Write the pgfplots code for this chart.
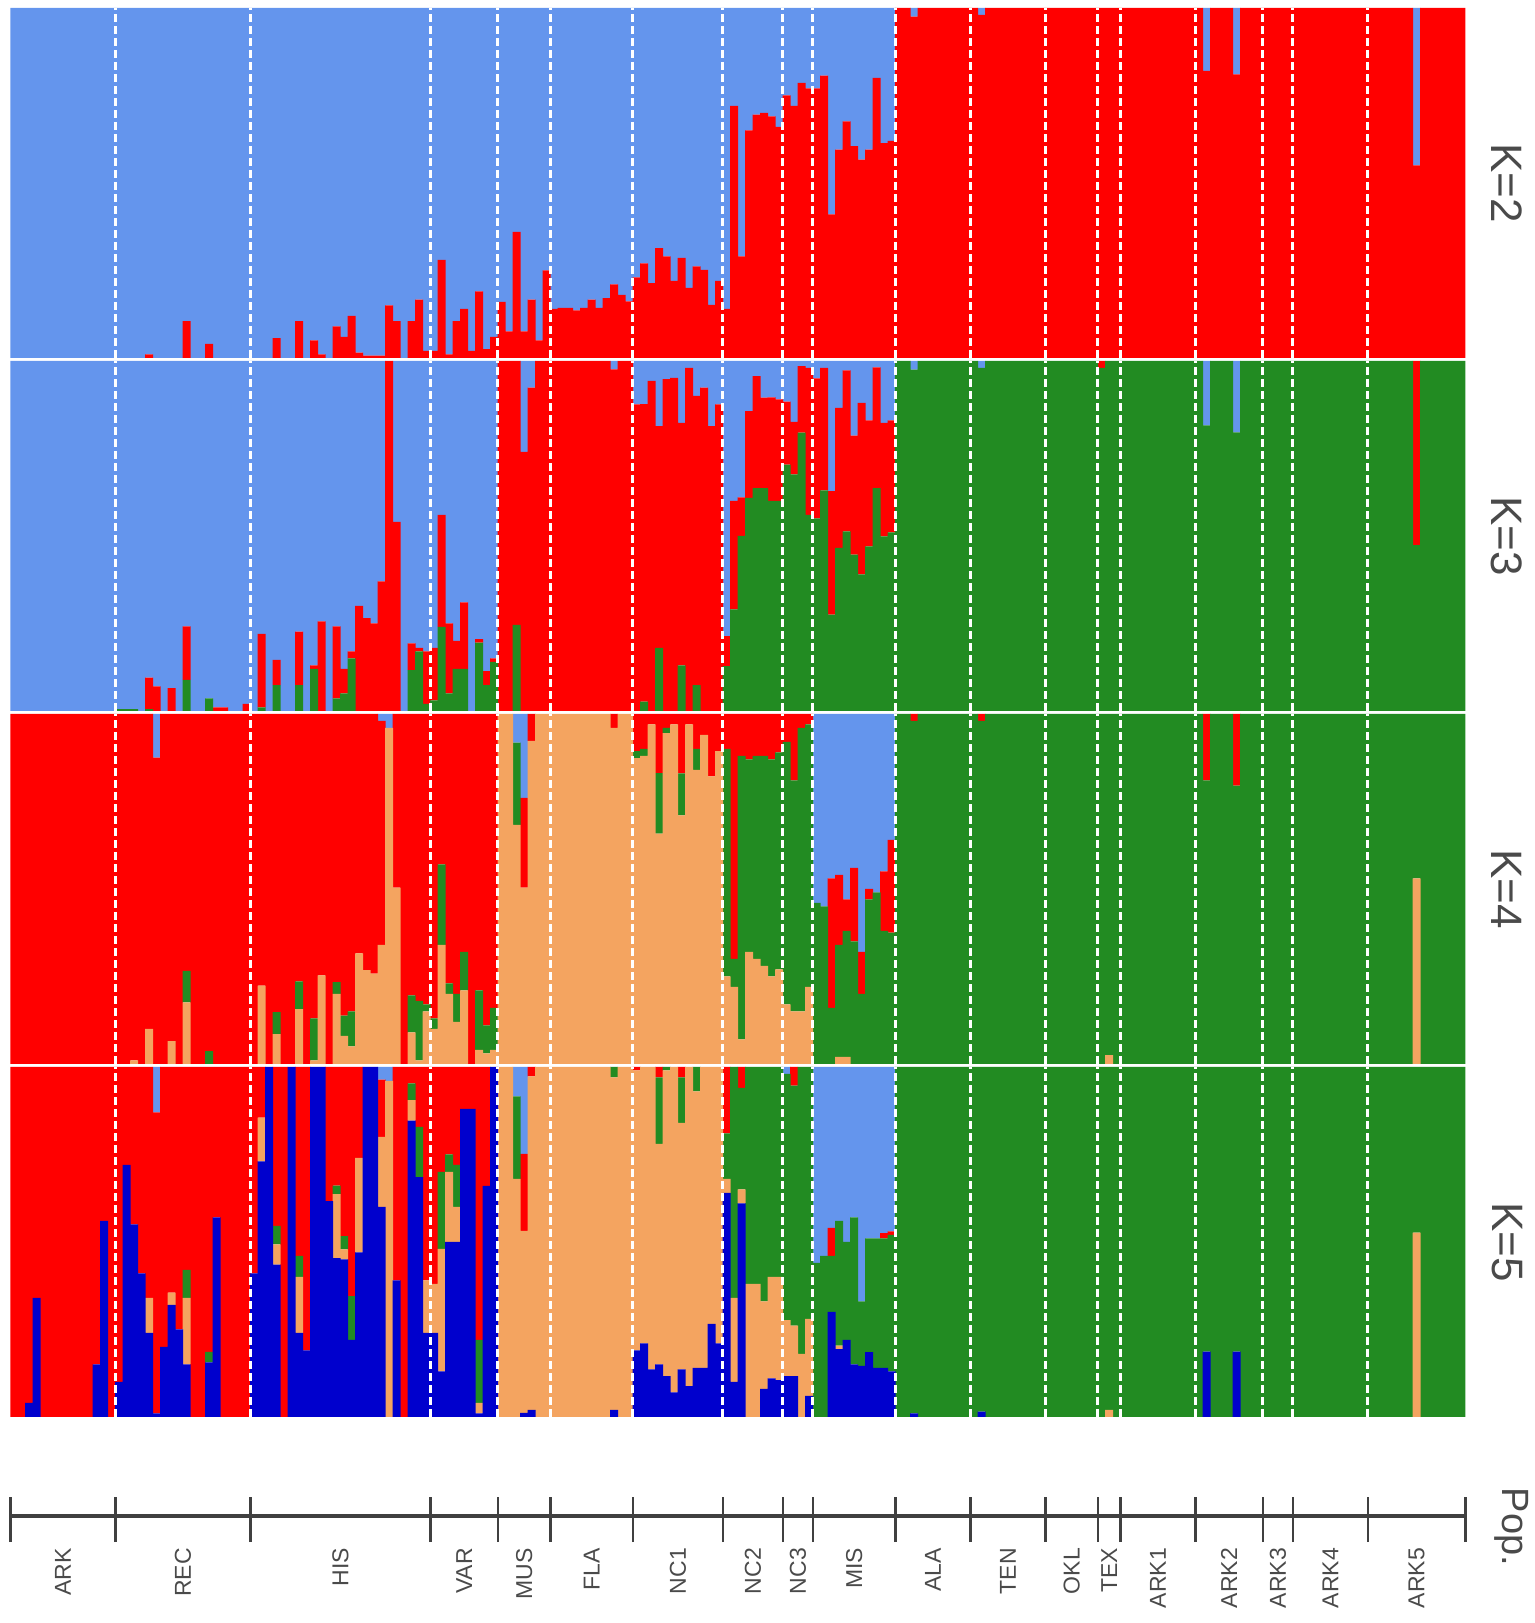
\documentclass[border=0pt]{standalone}
\usepackage{pgfplots}
\usepackage{pgfplotstable}
\usepackage{fontspec}
\setmainfont{Liberation Sans}
\pgfplotsset{compat=1.18}

\definecolor{lb}{HTML}{6495ED}
\definecolor{rd}{HTML}{FF0000}
\definecolor{gr}{HTML}{228B22}
\definecolor{orn}{HTML}{F4A460}
\definecolor{db}{HTML}{0000CD}
\definecolor{axgray}{HTML}{404040}
\definecolor{txgray}{HTML}{4A4A4A}

% one row per individual; K=2: a1..a2, K=3: b1..b3, K=4: c1..c4, K=5: d1..d5 (bottom to top)
\pgfplotstableread{
i a1 a2 b1 b2 b3 c1 c2 c3 c4 d1 d2 d3 d4 d5
1 0 100 0 0 100 0 0 100 0 0 0 0 100 0
2 0 100 0 0 100 0 0 100 0 0 0 0 100 0
3 0 100 0 0 100 0 0 100 0 4 0 0 96 0
4 0 100 0 0 100 0 0 100 0 34 0 0 66 0
5 0 100 0 0 100 0 0 100 0 0 0 0 100 0
6 0 100 0 0 100 0 0 100 0 0 0 0 100 0
7 0 100 0 0 100 0 0 100 0 0 0 0 100 0
8 0 100 0 0 100 0 0 100 0 0 0 0 100 0
9 0 100 0 0 100 0 0 100 0 0 0 0 100 0
10 0 100 0 0 100 0 0 100 0 0 0 0 100 0
11 0 100 0 0 100 0 0 100 0 0 0 0 100 0
12 0 100 0 0 100 0 0 100 0 15 0 0 85 0
13 0 100 0 0 100 0 0 100 0 56 0 0 44 0
14 0 100 0 0 100 0 0 100 0 0 0 0 100 0
15 0 100 0.5 0 99.5 0 0 100 0 10 0 0 90 0
16 0 100 0.5 0 99.5 0 0 100 0 72 0 0 28 0
17 0 100 0.5 0 99.5 1 0 99 0 55 0 0 45 0
18 0 100 0 0 100 0 0 100 0 41 0 0 59 0
19 1 99 0.5 9 90.5 10 0 90 0 24 10 0 66 0
20 0 100 0 7 93 0 0 87.5 12.5 1 0 0 86 13
21 0 100 0 0 100 0 0 100 0 20 0 0 80 0
22 0 100 0 6.5 93.5 6.5 0 93.5 0 32 3.5 0 64.5 0
23 0 100 0 0 100 0 0 100 0 25 0 0 75 0
24 10.5 89.5 8.9 15.3 75.8 17.6 9 73.4 0 15 19 8 58 0
25 0 100 0 0 100 0 0 100 0 0 0 0 100 0
26 0 100 0 0 100 0 0 100 0 0 0 0 100 0
27 4 96 3.6 0 96.4 0 3.7 96.3 0 15.6 0 3 81.4 0
28 0 100 0 1 99 0 0 100 0 57 0 0 43 0
29 0 100 0 1 99 0 0 100 0 0 0 0 100 0
30 0 100 0 0 100 0 0 100 0 0 0 0 100 0
31 0 100 0 0 100 0 0 100 0 0 0 0 100 0
32 0 100 0 2 98 0 0 100 0 0 0 0 100 0
33 0 100 0 0 100 0 0 100 0 41 0 0 59 0
34 0 100 1 21 78 22.4 0 77.6 0 73 12.5 0 14.5 0
35 0 100 0 0 100 0 0 100 0 100 0 0 0 0
36 5.7 94.3 7.4 7.2 85.4 8.5 6.3 85.2 0 43.5 5.8 5.3 45.4 0
37 0 100 0 0 100 0 0 100 0 0 0 0 100 0
38 0 100 0 0 100 0 0 100 0 100 0 0 0 0
39 10.5 89.5 7.4 15.3 77.3 15.7 7.9 76.4 0 24 16 6 54 0
40 0 100 0 0 100 0 0 100 0 19 0 0 81 0
41 5 95 12 1 87 1 12 87 0 100 0 0 0 0
42 1 99 0 25.6 74.4 25.3 0 74.7 0 100 0 0 0 0
43 0 100 0 0 100 0 0 100 0 61.7 0 0 38.3 0
44 9 91 3.6 20.6 75.8 20 3.4 76.6 0 45.4 18.3 2.4 33.9 0
45 6 94 5 7 88 8 5.8 86.2 0 45 2.9 3.8 48.3 0
46 12 88 15 2 83 5 10 85 0 22 0 12.5 65.5 0
47 1.5 98.5 0 30 70 31.6 0 68.4 0 47 27 0 26 0
48 0.7 99.3 0 26.5 73.5 26.8 0 73.2 0 100 0 0 0 0
49 0.7 99.3 0 25 75 25.8 0 74.2 0 100 0 0 0 0
50 0.7 99.3 0 37 63 34 0 64 2 60 20 0 16.4 3.6
51 15 85 0 100 0 96 0 0 4 0 96 0 0 4
52 10.5 89.5 0 54 46 50.4 0 49.6 0 39 0 0 61 0
53 0 100 0 0 100 0 0 100 0 0 0 0 100 0
54 10.5 89.5 11.7 7.6 80.7 9 10.6 80.4 0 84.7 5.8 4.8 4.7 0
55 16.7 83.3 17 1 82 1 17 82 0 68.5 0 14.4 17.1 0
56 2 98 2 15 83 15 2 83 0 24 15 0 61 0
57 2 98 3 15 82 10 3 87 0 24 14 0 62 0
58 28 72 24 32 44 34 23 43 0 13 35 22 30 0
59 1 99 5 20 75 20 3 77 0 50 20 5 25 0
60 10.5 89.5 12 8 80 12 8 80 0 50 10 12 28 0
61 14 86 12 19 69 21 11 68 0 88 0 0 12 0
62 2 98 0 0 100 0 0 100 0 88 0 0 12 0
63 19 81 19.5 1 79.5 4 17 79 0 1 3 18 78 0
64 2.5 97.5 7.4 4 88.6 3 8 89 0 66 0 0 34 0
65 6 94 14 1 85 4 12 84 0 100 0 0 0 0
66 16 84 0 100 0 100 0 0 0 0 100 0 0 0
67 7.6 92.4 0 100 0 100 0 0 0 0 100 0 0 0
68 36 64 24.6 75.4 0 68.3 23.5 0 8.2 0 68 23.6 0 8.4
69 7.6 92.4 0 74 26 50.4 0 25.6 24 1.2 52 0 22 24.8
70 16.7 83.3 0 92.4 7.6 92.3 0 7.7 0 2 95.3 0 2.7 0
71 5 95 0 100 0 100 0 0 0 0 100 0 0 0
72 25 75 0 100 0 100 0 0 0 0 100 0 0 0
73 14 86 0 100 0 100 0 0 0 0 100 0 0 0
74 14.3 85.7 0 100 0 100 0 0 0 0 100 0 0 0
75 14.3 85.7 0 100 0 100 0 0 0 0 100 0 0 0
76 13.6 86.4 0 100 0 100 0 0 0 0 100 0 0 0
77 14.3 85.7 0 100 0 100 0 0 0 0 100 0 0 0
78 16.7 83.3 0 100 0 100 0 0 0 0 100 0 0 0
79 14.3 85.7 0 100 0 100 0 0 0 0 100 0 0 0
80 17.1 82.9 0 100 0 100 0 0 0 0 100 0 0 0
81 21 79 0 97.6 2.4 96 0 4 0 2 95 3 0 0
82 18 82 0 100 0 100 0 0 0 0 100 0 0 0
83 16.2 83.8 0 100 0 100 0 0 0 0 100 0 0 0
84 23 77 0 87.6 12.4 87.4 2 10.6 0 19 80 0 1 0
85 27 73 2.7 85 12.3 88 2 10 0 21 79 0 0 0
86 21.4 78.6 0 94.3 5.7 97 0 3 0 13.6 86.4 0 0 0
87 31.4 68.6 18 63.4 18.6 65.8 17.3 16.9 0 15 63 19 3 0
88 29 71 0 94.8 5.2 94.5 1.5 4 0 11.7 87.3 1 0 0
89 22 78 0 95.2 4.8 97 0 3 0 7 93 0 0 0
90 28.6 71.4 13 69.3 17.7 71 12 17 0 13.6 70.4 13 3 0
91 20 80 0 98 2 97 0 3 0 8.8 91.2 0 0 0
92 26.2 73.8 7.4 82.6 10 84 6 10 0 14 79 7 0 0
93 25.2 74.8 0 92.4 7.6 94 0 6 0 14 86 0 0 0
94 15.2 84.8 0 81.4 18.6 82.2 0 17.8 0 26.6 73.4 0 0 0
95 22 78 0 87.6 12.4 89.4 0 10.6 0 21 79 0 0 0
96 14 86 12.8 8.6 78.6 25 65 10 0 64 4 13 19 0
97 72 28 29 31 40 22 8 70 0 10 24 66 0 0
98 29 71 50 11 39 7 81 12 0 61 4 29 6 0
99 65 35 60.9 24.8 14.3 32 55 13 0 0 38 62 0 0
100 69.5 30.5 63.7 32 4.3 30 58 12 0 0 38 62 0 0
101 70 30 63.7 25.8 10.5 28 60 12 0 8 25 67 0 0
102 69 31 60 29.6 10.4 25 62 13 0 11 29 60 0 0
103 66 34 60 29 11 27 62 11 0 10.5 29.5 60 0 0
104 75 25 70.4 18 11.6 17 75 8 0 11.7 16 70.3 0 2
105 72 28 67.6 15 17.4 15 66 19 0 11.7 14.4 68.6 5.3 0
106 78.6 21.4 79.5 19 1.5 15 81 4 0 0 18 82 0 0
107 77 23 56 42 2 22 75 3 0 6 22 72 0 0
108 77 23 55 40 5 0 46 0 54 0 0 44 0 56
109 80.7 19.3 63 35 2 0 45 0 55 0 0 46 0 54
110 41 59 27.5 35.3 37.2 0 16 37 47 30 0 16 8 46
111 59.5 40.5 46.6 40 13.4 2 32 20 46 19.4 1 35.6 0 44
112 67.6 32.4 51.3 46 2.7 2 36 9 53 22 0 28 0 50
113 60.5 39.5 44.7 34 21.3 0 35 21 44 15 0 42 0 43
114 56.7 43.3 39 49 12 0 20 12 68 14.6 0 18.4 0 67
115 59.5 40.5 47 36 17 0 47 3 50 18.5 0 32.5 0 49
116 80 20 63.7 34.5 1.8 0 49 0 51 14 0 37 0 49
117 61.4 38.6 49.9 32.4 17.7 0 38 17 45 14 0 37 1.5 47.5
118 62 38 51 32 17 0 37.5 26.5 36 13 0 39 1 47
119 100 0 100 0 0 0 100 0 0 0 0 100 0 0
120 100 0 100 0 0 0 100 0 0 0 0 100 0 0
121 97.5 2.5 97.5 0 2.5 0 98 2 0 1 0 99 0 0
122 100 0 100 0 0 0 100 0 0 0 0 100 0 0
123 100 0 100 0 0 0 100 0 0 0 0 100 0 0
124 100 0 100 0 0 0 100 0 0 0 0 100 0 0
125 100 0 100 0 0 0 100 0 0 0 0 100 0 0
126 100 0 100 0 0 0 100 0 0 0 0 100 0 0
127 100 0 100 0 0 0 100 0 0 0 0 100 0 0
128 100 0 100 0 0 0 100 0 0 0 0 100 0 0
129 100 0 100 0 0 0 100 0 0 0 0 100 0 0
130 98 2 98 0 2 0 98 2 0 1.5 0 98.5 0 0
131 100 0 100 0 0 0 100 0 0 0 0 100 0 0
132 100 0 100 0 0 0 100 0 0 0 0 100 0 0
133 100 0 100 0 0 0 100 0 0 0 0 100 0 0
134 100 0 100 0 0 0 100 0 0 0 0 100 0 0
135 100 0 100 0 0 0 100 0 0 0 0 100 0 0
136 100 0 100 0 0 0 100 0 0 0 0 100 0 0
137 100 0 100 0 0 0 100 0 0 0 0 100 0 0
138 100 0 100 0 0 0 100 0 0 0 0 100 0 0
139 100 0 100 0 0 0 100 0 0 0 0 100 0 0
140 100 0 100 0 0 0 100 0 0 0 0 100 0 0
141 100 0 100 0 0 0 100 0 0 0 0 100 0 0
142 100 0 100 0 0 0 100 0 0 0 0 100 0 0
143 100 0 100 0 0 0 100 0 0 0 0 100 0 0
144 100 0 100 0 0 0 100 0 0 0 0 100 0 0
145 100 0 100 0 0 0 100 0 0 0 0 100 0 0
146 100 0 98 2 0 0 100 0 0 0 0 100 0 0
147 100 0 100 0 0 2.5 97.5 0 0 0 2 98 0 0
148 100 0 100 0 0 0 100 0 0 0 0 100 0 0
149 100 0 100 0 0 0 100 0 0 0 0 100 0 0
150 100 0 100 0 0 0 100 0 0 0 0 100 0 0
151 100 0 100 0 0 0 100 0 0 0 0 100 0 0
152 100 0 100 0 0 0 100 0 0 0 0 100 0 0
153 100 0 100 0 0 0 100 0 0 0 0 100 0 0
154 100 0 100 0 0 0 100 0 0 0 0 100 0 0
155 100 0 100 0 0 0 100 0 0 0 0 100 0 0
156 100 0 100 0 0 0 100 0 0 0 0 100 0 0
157 100 0 100 0 0 0 100 0 0 0 0 100 0 0
158 100 0 100 0 0 0 100 0 0 0 0 100 0 0
159 100 0 100 0 0 0 100 0 0 0 0 100 0 0
160 82 18 81.6 0 18.4 0 81 19 0 18.7 0 81.3 0 0
161 100 0 100 0 0 0 100 0 0 0 0 100 0 0
162 100 0 100 0 0 0 100 0 0 0 0 100 0 0
163 100 0 100 0 0 0 100 0 0 0 0 100 0 0
164 81 19 79.6 0 20.4 0 79.5 20.5 0 18.7 0 81.3 0 0
165 100 0 100 0 0 0 100 0 0 0 0 100 0 0
166 100 0 100 0 0 0 100 0 0 0 0 100 0 0
167 100 0 100 0 0 0 100 0 0 0 0 100 0 0
168 100 0 100 0 0 0 100 0 0 0 0 100 0 0
169 100 0 100 0 0 0 100 0 0 0 0 100 0 0
170 100 0 100 0 0 0 100 0 0 0 0 100 0 0
171 100 0 100 0 0 0 100 0 0 0 0 100 0 0
172 100 0 100 0 0 0 100 0 0 0 0 100 0 0
173 100 0 100 0 0 0 100 0 0 0 0 100 0 0
174 100 0 100 0 0 0 100 0 0 0 0 100 0 0
175 100 0 100 0 0 0 100 0 0 0 0 100 0 0
176 100 0 100 0 0 0 100 0 0 0 0 100 0 0
177 100 0 100 0 0 0 100 0 0 0 0 100 0 0
178 100 0 100 0 0 0 100 0 0 0 0 100 0 0
179 100 0 100 0 0 0 100 0 0 0 0 100 0 0
180 100 0 100 0 0 0 100 0 0 0 0 100 0 0
181 100 0 100 0 0 0 100 0 0 0 0 100 0 0
182 100 0 100 0 0 0 100 0 0 0 0 100 0 0
183 100 0 100 0 0 0 100 0 0 0 0 100 0 0
184 100 0 100 0 0 0 100 0 0 0 0 100 0 0
185 100 0 100 0 0 0 100 0 0 0 0 100 0 0
186 100 0 100 0 0 0 100 0 0 0 0 100 0 0
187 100 0 100 0 0 0 100 0 0 0 0 100 0 0
188 55 45 47.4 52.6 0 53 47 0 0 0 52.7 47.3 0 0
189 100 0 100 0 0 0 100 0 0 0 0 100 0 0
190 100 0 100 0 0 0 100 0 0 0 0 100 0 0
191 100 0 100 0 0 0 100 0 0 0 0 100 0 0
192 100 0 100 0 0 0 100 0 0 0 0 100 0 0
193 100 0 100 0 0 0 100 0 0 0 0 100 0 0
194 100 0 100 0 0 0 100 0 0 0 0 100 0 0
}\data

\pgfplotsset{
  strplot/.style={
    scale only axis, width=727.5pt, height=175pt, anchor=north west,
    xmin=0.5, xmax=194.5, ymin=0, ymax=100,
    ybar stacked, bar width=1.06,
    axis on top, axis line style={draw=none},
    ytick=\empty,
    xtick={14.5,32.5,56.5,65.5,72.5,83.5,95.5,103.5,107.5,118.5,128.5,138.5,145.5,148.5,158.5,167.5,171.5,181.5},
    xticklabels={}, xtick style={draw=none}, major tick length=0pt,
    xmajorgrids=true,
    major grid style={white, line width=1.5pt, dash pattern=on 4pt off 2pt},
  },
}
\tikzset{
  klab/.style={rotate=-90, text=txgray, font=\fontsize{22}{26}\selectfont},
  plab/.style={rotate=90, anchor=east, text=txgray, font=\fontsize{11.5}{14}\selectfont},
}

\begin{document}
\begin{tikzpicture}
\path[use as bounding box] (0,0) rectangle (767.5pt,811.5pt);

\begin{axis}[strplot, name=p2, at={(5.2pt,807.5pt)}]
\addplot[fill=rd, draw=none] table[x=i, y=a1] {\data};
\addplot[fill=lb, draw=none] table[x=i, y=a2] {\data};
\end{axis}
\node[klab] at ([xshift=20.8pt]p2.east) {K=2};

\begin{axis}[strplot, name=p3, at={(5.2pt,631pt)}]
\addplot[fill=gr, draw=none] table[x=i, y=b1] {\data};
\addplot[fill=rd, draw=none] table[x=i, y=b2] {\data};
\addplot[fill=lb, draw=none] table[x=i, y=b3] {\data};
\end{axis}
\node[klab] at ([xshift=20.8pt]p3.east) {K=3};

\begin{axis}[strplot, name=p4, at={(5.2pt,454.5pt)}]
\addplot[fill=orn, draw=none] table[x=i, y=c1] {\data};
\addplot[fill=gr, draw=none] table[x=i, y=c2] {\data};
\addplot[fill=rd, draw=none] table[x=i, y=c3] {\data};
\addplot[fill=lb, draw=none] table[x=i, y=c4] {\data};
\end{axis}
\node[klab] at ([xshift=20.8pt]p4.east) {K=4};

\begin{axis}[strplot, name=p5, at={(5.2pt,278pt)}]
\addplot[fill=db, draw=none] table[x=i, y=d1] {\data};
\addplot[fill=orn, draw=none] table[x=i, y=d2] {\data};
\addplot[fill=gr, draw=none] table[x=i, y=d3] {\data};
\addplot[fill=rd, draw=none] table[x=i, y=d4] {\data};
\addplot[fill=lb, draw=none] table[x=i, y=d5] {\data};
\end{axis}
\node[klab] at ([xshift=20.8pt]p5.east) {K=5};

% population axis
\begin{axis}[scale only axis, width=727.5pt, height=22.5pt, at={(5.2pt,40.5pt)},
    anchor=south west, xmin=0.5, xmax=194.5, ymin=-26, ymax=19,
    hide axis, clip=false]
\draw[line width=2pt, axgray] (axis cs:0.5,0) -- (axis cs:194.5,0);
\pgfplotsinvokeforeach{0.5,14.5,32.5,56.5,65.5,72.5,83.5,95.5,103.5,107.5,118.5,128.5,138.5,145.5,148.5,158.5,167.5,171.5,181.5,194.5}{
  \draw[line width=1.2pt, axgray] (axis cs:#1,-26) -- (axis cs:#1,19);
}
\foreach \xx/\lab in {7.5/ARK,23.5/REC,44.5/HIS,61/VAR,69/MUS,78/FLA,89.5/NC1,99.5/NC2,105.5/NC3,113/MIS,123.5/ALA,133.5/TEN,142/OKL,147/TEX,153.5/ARK1,163/ARK2,169.5/ARK3,176.5/ARK4,188/ARK5}{
  \edef\tmp{\noexpand\node[plab] at (axis cs:\xx,-25) {\lab};}
  \tmp
}
\end{axis}
\node[klab, font=\fontsize{19}{23}\selectfont] at (756pt,48pt) {Pop.};
\end{tikzpicture}
\end{document}
